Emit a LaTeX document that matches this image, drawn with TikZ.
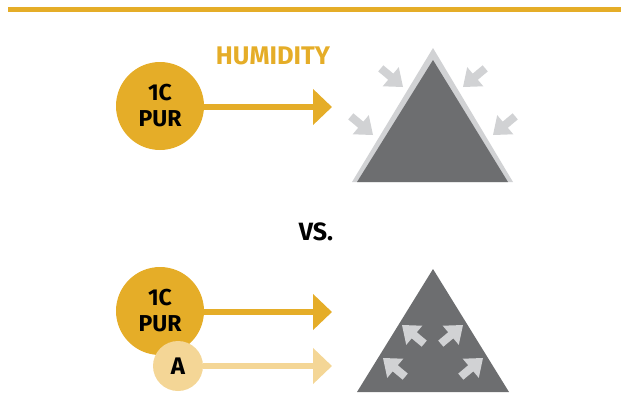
\documentclass[tikz,border=0pt]{standalone}
\usepackage{fontspec}
\setmainfont{Fira Sans}
\usetikzlibrary{arrows.meta}

\definecolor{gold}{HTML}{E5AD28}
\definecolor{palegold}{HTML}{F4D696}
\definecolor{darkgrey}{HTML}{6D6E70}
\definecolor{lightgrey}{HTML}{D1D2D4}

\tikzset{
  bigdot/.style={circle, fill=gold, minimum size=88pt, inner sep=0pt, align=center,
    font=\fontsize{23}{26}\selectfont\bfseries},
  smalldot/.style={circle, fill=palegold, minimum size=50pt, inner sep=0pt,
    font=\fontsize{24}{26}\selectfont\bfseries},
  flow/.style={line width=6pt, -{Triangle[length=19pt,width=35pt]}},
  pics/pusharrow/.style={code={
    \fill[#1] (0,0) -- (-16,12.5) -- (-16,4) -- (-29,4) -- (-29,-4)
      -- (-16,-4) -- (-16,-12.5) -- cycle;}}
}

\begin{document}
\begin{tikzpicture}[x=1pt, y=-1pt]
  \useasboundingbox (0,0) rectangle (621,418);

  % top rule
  \fill[gold] (8,7) rectangle (621,12);

  % first case: humidity only
  \node[bigdot] (pur1) at (160,106) {1C\\PUR};
  \coordinate (tip1) at (332,107);
  \draw[flow, gold] (pur1.east |- tip1) -- (tip1);
  \node[text=gold, inner sep=0pt, font=\fontsize{25.5}{28}\selectfont\bfseries] (hum) at (273,55.5) {HUMIDITY};

  % attacked triangle
  \fill[lightgrey] (433,48) -- (352,182) -- (513,182) -- cycle;
  \fill[darkgrey] (433,60) -- (357,182) -- (508,182) -- cycle;
  \pic[rotate=-40] at (403,87) {pusharrow=lightgrey};
  \pic[rotate=-40] at (373,135) {pusharrow=lightgrey};
  \pic[rotate=-140] at (463,87) {pusharrow=lightgrey};
  \pic[rotate=-140] at (493,135) {pusharrow=lightgrey};

  \node[inner sep=0pt, font=\fontsize{25}{28}\selectfont\bfseries] (vs) at (316,232) {VS.};

  % second case: with additive
  \node[bigdot] (pur2) at (160,311) {1C\\PUR};
  \node[smalldot] (adh) at (178,366) {A};
  \coordinate (tip2) at (332,312);
  \coordinate (tip3) at (332,366);
  \draw[flow, gold] (pur2.east |- tip2) -- (tip2);
  \draw[flow, palegold] (adh.east) -- (tip3);

  % triangle pushing out
  \fill[darkgrey] (433,269) -- (357,392) -- (509,392) -- cycle;
  \pic[rotate=140] at (402,325) {pusharrow=lightgrey};
  \pic[rotate=140] at (383,358) {pusharrow=lightgrey};
  \pic[rotate=40] at (463,325) {pusharrow=lightgrey};
  \pic[rotate=40] at (483,358) {pusharrow=lightgrey};
\end{tikzpicture}
\end{document}
